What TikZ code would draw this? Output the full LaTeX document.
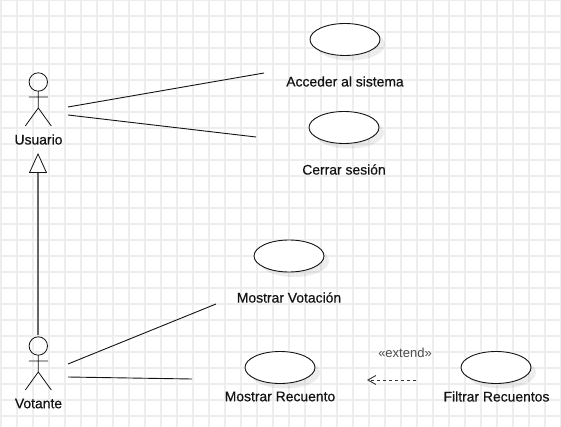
\documentclass[tikz,border=0pt]{standalone}
\usepackage{fontspec}
\setmainfont{Liberation Sans}
\newfontfamily\lblfont{Liberation Sans}[FakeBold=0.5]
\usetikzlibrary{arrows.meta,shadows,shapes.geometric}
\definecolor{gridc}{RGB}{238,238,238}
\definecolor{inkc}{RGB}{20,20,20}
\tikzset{
  x=1pt,y=-1pt,
  usecase/.style={ellipse,draw=inkc,fill=white,line width=0.9pt,minimum width=70pt,minimum height=32pt,inner sep=0pt,
    drop shadow={shadow xshift=5pt,shadow yshift=-5pt,fill=black,opacity=0.07}},
  lbl/.style={font=\lblfont\fontsize{13.9}{15}\selectfont,text=inkc,inner sep=0pt,anchor=center},
  smalllbl/.style={font=\fontsize{13}{15}\selectfont,text=black!70,inner sep=0pt,anchor=center},
  assoc/.style={draw=inkc,line width=0.9pt},
  actorline/.style={draw=inkc,line width=0.8pt},
  gen/.style={draw=black!60,line width=1.3pt,-{Triangle[color=inkc,fill=white,length=20pt,width=18pt,line width=0.8pt]}},
  ext/.style={draw=inkc!85,line width=1pt,dash pattern=on 3pt off 3pt,-{Straight Barb[length=8pt,width=9pt,line width=0.9pt]}},
}
\newcommand{\stickfig}[3]{%
  \draw[actorline] (#1,#2-9) circle[radius=9.2];
  \draw[actorline] (#1,#2) -- (#1,#2+17) (#1-9.5,#2+6) -- (#1+9.5,#2+6)
    (#1-13,#2+35) -- (#1,#2+17) -- (#1+13,#2+35);
  \coordinate (#3) at (#1,#2);
}
\begin{document}
\begin{tikzpicture}
\useasboundingbox (0,0) rectangle (561,427);
\fill[white] (0,0) rectangle (561,427);
\foreach \gx in {1,17,...,561} \draw[gridc,line width=1.25pt] (\gx,0) -- (\gx,427);
\foreach \gy in {0,16,...,427} \draw[gridc,line width=1.25pt] (0,\gy) -- (561,\gy);

\node[usecase] (uc1) at (345,39.5) {};
\node[usecase] (uc2) at (344,127.5) {};
\node[usecase] (uc3) at (289,256) {};
\node[usecase] (uc4) at (280,367.5) {};
\node[usecase] (uc5) at (496,367.5) {};

\node[lbl] (t1) at (345,81.5) {Acceder al sistema};
\node[lbl] (t2) at (344,169.5) {Cerrar sesión};
\node[lbl] (t3) at (289,297.5) {Mostrar Votación};
\node[lbl] (t4) at (280,396.5) {Mostrar Recuento};
\node[lbl] (t5) at (496.5,396.5) {Filtrar Recuentos};
\node[lbl] (au) at (38.5,139.5) {Usuario};
\node[lbl] (av) at (38.5,403.5) {Votante};
\node[smalllbl] (te) at (405,353) {«extend»};

\stickfig{38.3}{91}{actU}
\stickfig{38.3}{355}{actV}

\coordinate (uA) at (68,107);
\coordinate (uB) at (68,115);
\coordinate (vA) at (68,364);
\coordinate (vB) at (68,377);
\coordinate (e1) at (264,73);
\coordinate (e2) at (256,137);
\coordinate (e3) at (216,304);
\coordinate (e4) at (192,379);
\coordinate (gs) at (38,335);
\coordinate (ge) at (38,153);
\coordinate (xs) at (416,380);
\coordinate (xe) at (367,380);

\draw[assoc] (uA) -- (e1);
\draw[assoc] (uB) -- (e2);
\draw[assoc] (vA) -- (e3);
\draw[assoc] (vB) -- (e4);
\draw[gen] (gs) -- (ge);
\draw[ext] (xs) -- (xe);
\end{tikzpicture}
\end{document}
